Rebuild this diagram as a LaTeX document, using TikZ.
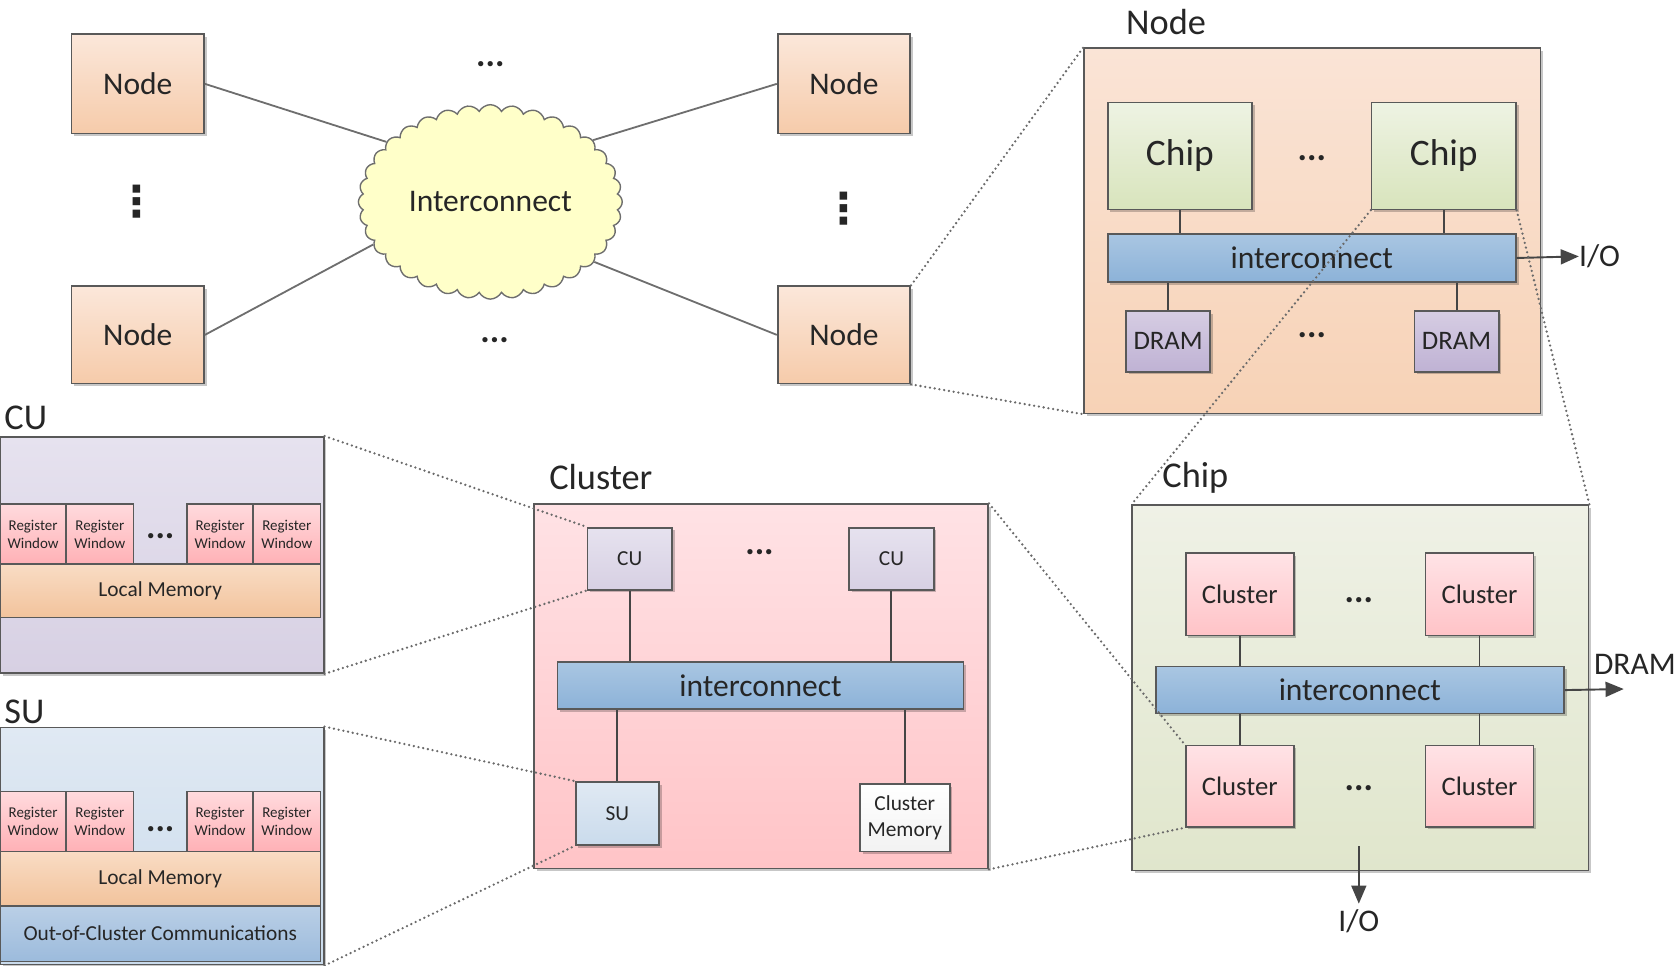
\documentclass[tikz,border=0pt]{standalone}
\usepackage{fontspec}
\setmainfont{Carlito}
\newfontfamily\djv{DejaVu Sans}
\usetikzlibrary{shapes.symbols,shadows,arrows.meta}
\definecolor{txt}{HTML}{262626}
\definecolor{bord}{HTML}{595959}
\definecolor{linec}{HTML}{454545}
\definecolor{netline}{HTML}{6E6E6E}
\definecolor{dotc}{HTML}{6A6A6A}
\definecolor{peachT}{HTML}{FBE7DA}
\definecolor{peachB}{HTML}{F6CBAA}
\definecolor{peachBigT}{HTML}{FAE4D6}
\definecolor{peachBigB}{HTML}{F7D2B6}
\definecolor{greenT}{HTML}{EEF3E3}
\definecolor{greenB}{HTML}{D8E4BC}
\definecolor{greenBigT}{HTML}{EFF1E6}
\definecolor{greenBigB}{HTML}{E0E6CC}
\definecolor{blueT}{HTML}{A9C6E2}
\definecolor{blueB}{HTML}{8CB2D8}
\definecolor{purpT}{HTML}{D6CDE3}
\definecolor{purpB}{HTML}{BFB2D4}
\definecolor{pinkT}{HTML}{FFE3E6}
\definecolor{pinkB}{HTML}{FFC3C7}
\definecolor{pinkBigT}{HTML}{FFE2E5}
\definecolor{pinkBigB}{HTML}{FFC4C7}
\definecolor{lavT}{HTML}{E6E2EF}
\definecolor{lavB}{HTML}{D7D0E3}
\definecolor{suT}{HTML}{E0E9F3}
\definecolor{suB}{HTML}{CADBEC}
\definecolor{rwT}{HTML}{FFDADD}
\definecolor{rwB}{HTML}{FFB1B6}
\definecolor{lmT}{HTML}{F9DCC4}
\definecolor{lmB}{HTML}{F2C39C}
\definecolor{oocT}{HTML}{BACFE6}
\definecolor{oocB}{HTML}{9CBBDC}
\definecolor{cloudY}{HTML}{FFFFC9}
\newcommand\fszLabel{\fontsize{34}{40}\selectfont}
\newcommand\fszMain{\fontsize{29.5}{35}\selectfont}
\newcommand\fszChip{\fontsize{35}{42}\selectfont}
\newcommand\fszMid{\fontsize{25}{30}\selectfont}
\newcommand\fszSmall{\fontsize{20}{24}\selectfont}
\newcommand\fszTiny{\fontsize{14}{17}\selectfont}
\newcommand\fszDots{\bfseries\fontsize{33}{40}\selectfont}
\begin{document}
\begin{tikzpicture}[x=1pt,y=-1pt,
  every node/.append style={text=txt},
  box/.style={draw=bord, line width=1.6pt, inner sep=0pt,
    drop shadow={shadow xshift=2.5pt,shadow yshift=-2.5pt,opacity=0.22,fill=black}},
  flatbox/.style={draw=bord, line width=1.6pt, inner sep=0pt},
  sz/.style 2 args={minimum width=#1,minimum height=#2},
  grad/.style 2 args={top color=#1,bottom color=#2},
  lbl/.style={anchor=west, inner sep=0pt, font=\fszLabel},
  dots/.style={inner sep=0pt, font=\fszDots},
  vdots/.style={inner sep=0pt, font=\djv\bfseries\fontsize{40}{48}\selectfont},
  conn/.style={draw=linec, line width=1.8pt},
  netconn/.style={draw=netline, line width=1.7pt},
  zoomline/.style={draw=dotc, line width=2.4pt, dash pattern=on 0pt off 4.5pt, line cap=round},
  arr/.style={draw=linec, line width=1.8pt, -{Triangle[length=17pt,width=14pt]}},
  rw/.style={flatbox, grad={rwT}{rwB}, sz={#1}{56}, align=center, font=\fszTiny},
]
\useasboundingbox (0,0) rectangle (1568,904);

% ---------------- network of nodes ----------------
\node[cloud, cloud puffs=36, cloud puff arc=125, aspect=1.36, draw=netline, fill=cloudY,
      line width=1.3pt, minimum width=247, minimum height=182, inner sep=0pt, font=\fszMain] (cloud) at (459,189) {Interconnect};
\node[box, grad={peachT}{peachB}, sz={124}{93}, font=\fszMain] (nTL) at (129,78.5) {Node};
\node[box, grad={peachT}{peachB}, sz={124}{91}, font=\fszMain] (nBL) at (129,313.5) {Node};
\node[box, grad={peachT}{peachB}, sz={124}{93}, font=\fszMain] (nTR) at (790,78.5) {Node};
\node[box, grad={peachT}{peachB}, sz={124}{91}, font=\fszMain] (nBR) at (790,313.5) {Node};
\draw[netconn] (nTL.east) -- (cloud.150);
\draw[netconn] (nTR.west) -- (cloud.31);
\draw[netconn] (nBL.east) -- (cloud.200);
\draw[netconn] (nBR.west) -- (cloud.330);
\node[dots] (d1) at (459,60) {...};
\node[dots] (d2) at (463,318) {...};
\node[vdots] (d3) at (128,189) {⋮};
\node[vdots] (d4) at (790,195) {⋮};

% ---------------- Node detail ----------------
\node[lbl] (ndLbl) at (1054,21) {Node};
\node[box, grad={peachBigT}{peachBigB}, sz={427}{342}] (ND) at (1228.5,216) {};
\node[box, grad={greenT}{greenB}, sz={135}{100}, font=\fszChip] (chip1) at (1104.5,146) {Chip};
\node[box, grad={greenT}{greenB}, sz={135}{100}, font=\fszChip] (chip2) at (1351.5,146) {Chip};
\node[dots] (d5) at (1228,148) {...};
\node[box, grad={blueT}{blueB}, sz={382}{45}, font=\fszMain] (bar1) at (1228,241.5) {interconnect};
\node[box, grad={purpT}{purpB}, sz={79}{57}, font=\fszMid] (dram1) at (1093.5,319.5) {DRAM};
\node[box, grad={purpT}{purpB}, sz={79}{57}, font=\fszMid] (dram2) at (1363.5,319.5) {DRAM};
\node[dots] (d6) at (1228,314) {...};
\draw[conn] (chip1.south) -- (chip1.south |- bar1.north);
\draw[conn] (chip2.south) -- (chip2.south |- bar1.north);
\draw[conn] (dram1.north) -- (dram1.north |- bar1.south);
\draw[conn] (dram2.north) -- (dram2.north |- bar1.south);
\node[anchor=west, inner sep=0pt, font=\fszMain] (io1) at (1478,240) {I/O};
\draw[arr] (bar1.east) -- (io1.west);

% ---------------- Chip detail ----------------
\node[lbl] (chLbl) at (1088,447) {Chip};
\node[box, grad={greenBigT}{greenBigB}, sz={427}{342}] (CH) at (1273.5,644) {};
\node[box, grad={pinkT}{pinkB}, sz={101}{77}, font=\fszMid] (cl1) at (1160.5,556.5) {Cluster};
\node[box, grad={pinkT}{pinkB}, sz={101}{77}, font=\fszMid] (cl2) at (1385,556.5) {Cluster};
\node[box, grad={pinkT}{pinkB}, sz={101}{76}, font=\fszMid] (cl3) at (1160.5,736) {Cluster};
\node[box, grad={pinkT}{pinkB}, sz={101}{76}, font=\fszMid] (cl4) at (1385,736) {Cluster};
\node[dots] (d7) at (1272,562) {...};
\node[dots] (d8) at (1272,738) {...};
\node[box, grad={blueT}{blueB}, sz={382}{44}, font=\fszMain] (bar2) at (1273,646) {interconnect};
\draw[conn] (cl1.south) -- (cl1.south |- bar2.north);
\draw[conn] (cl2.south) -- (cl2.south |- bar2.north);
\draw[conn] (cl3.north) -- (cl3.north |- bar2.south);
\draw[conn] (cl4.north) -- (cl4.north |- bar2.south);
\coordinate (dramEnd) at (1520,645);
\node[anchor=west, inner sep=0pt, font=\fszMain] (dramLbl) at (1492,622) {DRAM};
\draw[arr] (bar2.east) -- (dramEnd);
\coordinate (ioStart) at (1272,792);
\node[inner sep=0pt, font=\fszMain] (io2) at (1272,862) {I/O};
\draw[arr] (ioStart) -- (1272,846);

% ---------------- Cluster detail ----------------
\node[lbl] (clLbl) at (514,447) {Cluster};
\node[box, grad={pinkBigT}{pinkBigB}, sz={425}{341}] (CL) at (712.5,642.5) {};
\node[box, grad={lavT}{lavB}, sz={79}{58}, font=\fszSmall] (cu1) at (589.5,523) {CU};
\node[box, grad={lavT}{lavB}, sz={79}{58}, font=\fszSmall] (cu2) at (834.5,523) {CU};
\node[dots] (d9) at (711,517) {...};
\node[box, grad={blueT}{blueB}, sz={380}{44}, font=\fszMain] (bar3) at (712,642) {interconnect};
\node[box, grad={suT}{suB}, sz={78}{59}, font=\fszSmall] (su) at (578,761.5) {SU};
\node[box, grad={white}{gray!10}, sz={84}{63}, align=center, font=\fszSmall] (cm) at (847,765.5) {Cluster\\Memory};
\draw[conn] (cu1.south) -- (cu1.south |- bar3.north);
\draw[conn] (cu2.south) -- (cu2.south |- bar3.north);
\draw[conn] (su.north) -- (su.north |- bar3.south);
\draw[conn] (cm.north) -- (cm.north |- bar3.south);

% ---------------- CU detail ----------------
\node[lbl] (cuLbl) at (4,391) {CU};
\node[box, grad={lavT}{lavB}, sz={303}{221}] (CUD) at (151.5,519.5) {};
\node[rw={62}] (rwa1) at (31,500) {Register\\Window};
\node[rw={63}] (rwa2) at (93.5,500) {Register\\Window};
\node[rw={62}] (rwa3) at (206,500) {Register\\Window};
\node[rw={63}] (rwa4) at (268.5,500) {Register\\Window};
\node[dots] (d10) at (150,502) {...};
\node[flatbox, grad={lmT}{lmB}, sz={300}{50}, font=\fszSmall] (lm1) at (150,553) {Local Memory};

% ---------------- SU detail ----------------
\node[lbl] (suLbl) at (4,666) {SU};
\node[box, grad={suT}{suB}, sz={303}{222}] (SUD) at (151.5,792) {};
\node[rw={62}] (rwb1) at (31,769) {Register\\Window};
\node[rw={63}] (rwb2) at (93.5,769) {Register\\Window};
\node[rw={62}] (rwb3) at (206,769) {Register\\Window};
\node[rw={63}] (rwb4) at (268.5,769) {Register\\Window};
\node[dots] (d11) at (150,776) {...};
\node[flatbox, grad={lmT}{lmB}, sz={300}{51}, font=\fszSmall] (lm2) at (150,822.5) {Local Memory};
\node[flatbox, grad={oocT}{oocB}, sz={300}{52}, font=\fszSmall] (ooc) at (150,874) {Out-of-Cluster Communications};

% ---------------- zoom lines ----------------
\draw[zoomline] (nBR.north east) -- (ND.north west);
\draw[zoomline] (nBR.south east) -- (ND.south west);
\draw[zoomline] (chip2.south west) -- (CH.north west);
\draw[zoomline] (chip2.south east) -- (CH.north east);
\draw[zoomline] (CL.north east) -- (cl3.north west);
\draw[zoomline] (CL.south east) -- (cl3.south west);
\draw[zoomline] (CUD.north east) -- (cu1.north west);
\draw[zoomline] (CUD.south east) -- (cu1.south west);
\draw[zoomline] (SUD.north east) -- (su.north west);
\draw[zoomline] (SUD.south east) -- (su.south west);
\end{tikzpicture}
\end{document}
